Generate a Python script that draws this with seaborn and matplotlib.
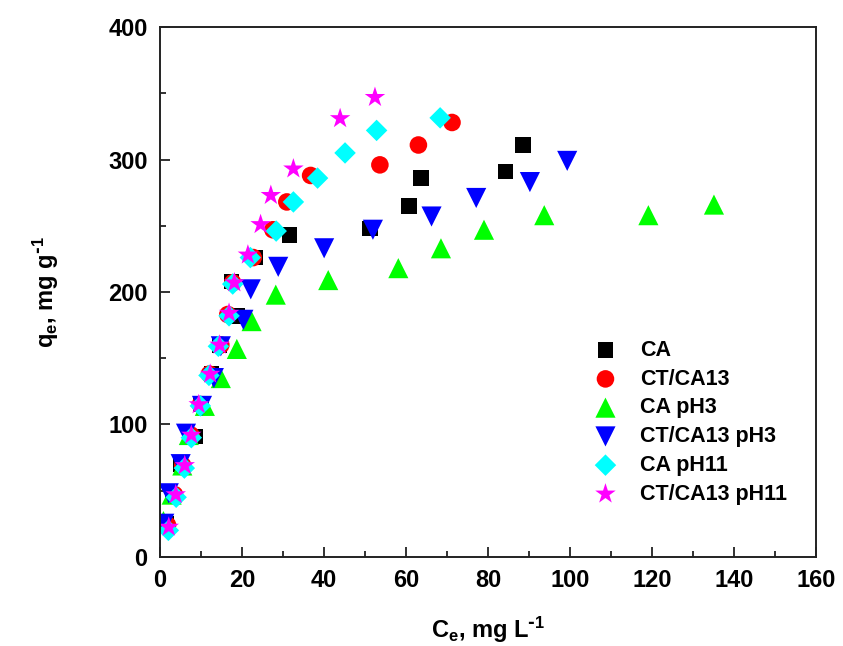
import matplotlib
matplotlib.use("Agg")
import matplotlib.pyplot as plt
import seaborn as sns
import pandas as pd

sns.set_theme(style="ticks")
plt.rcParams['font.family'] = ['Liberation Sans', 'DejaVu Sans']
plt.rcParams['font.weight'] = 'bold'
plt.rcParams['mathtext.default'] = 'regular'
plt.rcParams['text.color'] = 'black'
plt.rcParams['axes.labelcolor'] = 'black'
plt.rcParams['xtick.color'] = 'black'
plt.rcParams['ytick.color'] = 'black'

series_names = ["CA", "CT/CA13", "CA pH3", "CT/CA13 pH3", "CA pH11", "CT/CA13 pH11"]

ca_x = [1.5, 3.0, 5.0, 8.5, 10.0, 12.5, 14.5, 18.7, 17.4, 23.3, 31.5, 51.2, 60.7, 63.6, 84.3, 88.5]
ca_y = [25, 46, 70, 91, 115, 138, 160, 182, 208, 226, 243, 248, 265, 286, 291, 311]

ctca_x = [1.8, 3.5, 5.5, 7.5, 9.8, 12.0, 14.8, 16.5, 17.7, 22.7, 27.5, 30.9, 36.7, 53.6, 63.0, 71.2]
ctca_y = [24, 47, 69, 92, 115, 138, 160, 183, 207, 226, 247, 268, 288, 296, 311, 328]

ca3_x = [0.8, 2.8, 5.4, 7.0, 10.9, 14.8, 18.7, 22.3, 28.2, 41.0, 58.1, 68.5, 79.0, 93.7, 119.1, 135.1]
ca3_y = [27, 47, 69, 92, 114, 135, 157, 178, 198, 209, 218, 233, 247, 258, 258, 266]

ctca3_x = [1.0, 2.1, 5.0, 6.3, 10.2, 13.1, 14.8, 20.3, 22.1, 28.8, 40.0, 51.9, 66.2, 77.1, 90.2, 99.3]
ctca3_y = [25, 48, 70, 93, 114, 135, 159, 179, 202, 219, 233, 247, 257, 271, 283, 299]

ca11_x = [2.0, 3.9, 5.9, 7.6, 9.8, 11.9, 14.2, 16.8, 17.7, 22.0, 28.3, 32.5, 38.4, 45.1, 52.8, 68.3]
ca11_y = [20, 45, 67, 90, 114, 137, 159, 182, 206, 226, 246, 268, 286, 305, 322, 331.5]

ctca11_x = [2.1, 3.8, 6.0, 7.6, 9.4, 12.2, 14.5, 16.8, 18.1, 21.4, 24.5, 27.0, 32.5, 43.9, 52.4]
ctca11_y = [22.5, 47, 69, 92, 115, 138, 160, 184, 207, 228, 251, 273, 293, 331, 347]

xs = [ca_x, ctca_x, ca3_x, ctca3_x, ca11_x, ctca11_x]
ys = [ca_y, ctca_y, ca3_y, ctca3_y, ca11_y, ctca11_y]

colors = ["#000000", "#FF0000", "#00FF00", "#0000FF", "#00FFFF", "#FF00FF"]
markers = ["s", "o", "^", "v", "D", "*"]
sizes = [125, 160, 210, 210, 120, 240]

fig = plt.figure(figsize=(8.43, 6.46), dpi=100)
ax = fig.add_axes([0.190, 0.138, 0.778, 0.820])

for name, x, y, c, m, s in zip(series_names, xs, ys, colors, markers, sizes):
    df = pd.DataFrame({"Ce": x, "qe": y})
    sns.scatterplot(data=df, x="Ce", y="qe", ax=ax, color=c, marker=m, s=s,
                    edgecolor="none", linewidth=0, label=name)

ax.set_xlim(0, 160)
ax.set_ylim(0, 400)
ax.set_xticks(range(0, 161, 20))
ax.set_xticks(range(0, 161, 10), minor=True)
ax.set_yticks(range(0, 401, 100))
ax.set_yticks(range(0, 401, 50), minor=True)
ax.tick_params(axis="both", which="major", direction="in", length=7, width=1.3,
               labelsize=17, pad=9, color="#222222", labelcolor="black")
ax.tick_params(axis="both", which="minor", direction="in", length=4, width=1.3,
               color="#222222")
for sp in ax.spines.values():
    sp.set_linewidth(1.4)
    sp.set_color("#222222")
for lab in ax.get_xticklabels() + ax.get_yticklabels():
    lab.set_fontweight("bold")

ax.set_xlabel(r"C$_{e}$, mg L$^{\text{-}1}$", fontsize=17, fontweight="bold", labelpad=16)
ax.set_ylabel(r"q$_{e}$, mg g$^{\text{-}1}$", fontsize=17, fontweight="bold", labelpad=34)

leg = ax.legend(loc="upper left", bbox_to_anchor=(0.633, 0.426), frameon=False,
                prop={"size": 15.5, "weight": "bold"}, handletextpad=0.6,
                labelspacing=0.36, borderaxespad=0, markerscale=1.0)

fig.savefig("out.png", dpi=100)
